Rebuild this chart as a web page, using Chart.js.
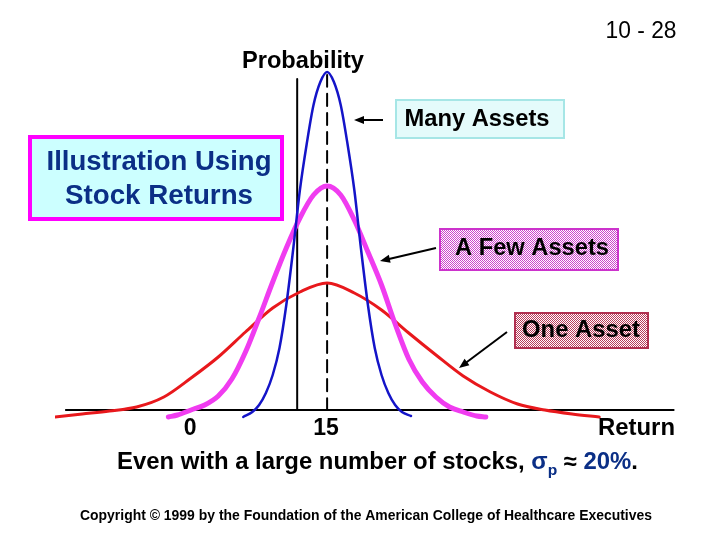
<!DOCTYPE html>
<html><head><meta charset="utf-8">
<script src="https://cdn.jsdelivr.net/npm/chart.js@4"></script>
<style>html,body{margin:0;padding:0;background:#fff}#wrap{width:720px;height:540px;position:relative}</style>
</head><body><div id="wrap"><canvas id="c" width="720" height="540"></canvas></div>
<script>
// Return (%) on x, relative probability on y
const oneAssetReturns  = [-15,-12,-9,-6,-3,0,3,6,9,12,15,18,21,24,27,30,33,36,39,42,45];
const oneAssetProb     = [-0.07,-0.04,-0.01,0.03,0.13,0.32,0.53,0.78,1.02,1.18,1.27,1.17,1.00,0.77,0.55,0.34,0.18,0.06,0.00,-0.04,-0.07];
const fewAssetsReturns = [-2.5,-1.5,0,1.5,3,4.5,6,7.5,9,10.5,12,13.5,15,16.5,18,19.5,21,22.5,24,25.5,27,28.5,30,31.5,32.5];
const fewAssetsProb    = [-0.07,-0.05,0.00,0.05,0.14,0.31,0.58,0.92,1.28,1.62,1.92,2.15,2.24,2.15,1.90,1.58,1.25,0.86,0.51,0.28,0.13,0.03,-0.02,-0.06,-0.07];
const manyAssetsReturns= [5.75,6.75,7.5,8.25,9,9.75,10.5,11.25,12,12.75,13.5,14.25,15,15.75,16.5,17.25,18,18.75,19.5,20.25,21,21.75,22.5,23.25,24.25];
const manyAssetsProb   = [-0.07,-0.02,0.05,0.17,0.35,0.62,1.05,1.60,2.20,2.66,3.05,3.28,3.38,3.28,3.05,2.66,2.20,1.60,1.05,0.62,0.35,0.17,0.05,-0.02,-0.06];
const xTickLabels = [0, 15];
const meanReturn = 15;
const probAxisReturn = 11.7;
const baselineReturns = [-13.8, 53.2];

const toXY = (xs, ys) => xs.map((x, i) => ({x, y: ys[i]}));
const F = '"Liberation Sans", Arial, sans-serif';

function checker(ctx, c1, c2) {
  const p = document.createElement('canvas'); p.width = 2; p.height = 2;
  const g = p.getContext('2d');
  g.fillStyle = c2; g.fillRect(0,0,2,2);
  g.fillStyle = c1; g.fillRect(0,0,1,1); g.fillRect(1,1,1,1);
  return ctx.createPattern(p, 'repeat');
}
function arrow(ctx, x1, y1, x2, y2) {
  ctx.save(); ctx.strokeStyle = '#000'; ctx.fillStyle = '#000'; ctx.lineWidth = 2;
  const a = Math.atan2(y2 - y1, x2 - x1);
  ctx.beginPath(); ctx.moveTo(x1, y1);
  ctx.lineTo(x2 - 7*Math.cos(a), y2 - 7*Math.sin(a)); ctx.stroke();
  ctx.beginPath(); ctx.moveTo(x2, y2);
  ctx.lineTo(x2 - 10*Math.cos(a) + 4*Math.sin(a), y2 - 10*Math.sin(a) - 4*Math.cos(a));
  ctx.lineTo(x2 - 10*Math.cos(a) - 4*Math.sin(a), y2 - 10*Math.sin(a) + 4*Math.cos(a));
  ctx.closePath(); ctx.fill(); ctx.restore();
}
function fitText(ctx, text, cx, cy, w) {
  const m = ctx.measureText(text).width;
  ctx.save(); ctx.translate(cx, cy);
  if (w) ctx.scale(w / m, 1);
  ctx.textAlign = 'center'; ctx.textBaseline = 'middle';
  ctx.fillText(text, 0, 0); ctx.restore();
}

const deco = {
  id: 'deco',
  afterDraw(chart) {
    const ctx = chart.ctx, xs = chart.scales.x;
    ctx.save();
    ctx.fillStyle = '#000';
    ctx.font = '23px ' + F; fitText(ctx, '10 - 28', 641, 32, 71);
    ctx.font = 'bold 23px ' + F; fitText(ctx, 'Probability', 303, 62, 122);

    // Illustration box
    ctx.fillStyle = '#ccffff'; ctx.fillRect(30, 137, 252, 82);
    ctx.strokeStyle = '#ff00ff'; ctx.lineWidth = 4; ctx.strokeRect(30, 137, 252, 82);
    ctx.fillStyle = '#0b2f86'; ctx.font = 'bold 27px ' + F;
    fitText(ctx, 'Illustration Using', 159, 163, 225);
    fitText(ctx, 'Stock Returns', 159, 197, 188);

    // Many Assets
    ctx.fillStyle = '#e4fbfb'; ctx.fillRect(396, 100, 168, 38);
    ctx.strokeStyle = '#a6e6e6'; ctx.lineWidth = 2; ctx.strokeRect(396, 100, 168, 38);
    ctx.fillStyle = '#000'; ctx.font = 'bold 23px ' + F; fitText(ctx, 'Many Assets', 477, 120, 145);
    arrow(ctx, 383, 120, 354, 120);

    // A Few Assets
    ctx.fillStyle = checker(ctx, '#cc44cc', '#ffffff'); ctx.fillRect(440, 229, 178, 41);
    ctx.strokeStyle = '#cc33cc'; ctx.lineWidth = 2; ctx.strokeRect(440, 229, 178, 41);
    ctx.fillStyle = '#000'; fitText(ctx, 'A Few Assets', 532, 249, 154);
    arrow(ctx, 436, 248, 380, 261);

    // One Asset
    ctx.fillStyle = checker(ctx, '#b83a5a', '#ffffff'); ctx.fillRect(515, 313, 133, 35);
    ctx.strokeStyle = '#b03050'; ctx.lineWidth = 2; ctx.strokeRect(515, 313, 133, 35);
    ctx.fillStyle = '#000'; fitText(ctx, 'One Asset', 581, 331, 118);
    arrow(ctx, 507, 332, 459, 368);

    // tick labels
    ctx.font = 'bold 23px ' + F;
    xTickLabels.forEach(v => fitText(ctx, String(v), xs.getPixelForValue(v) - 1, 429));
    fitText(ctx, 'Return', 636.5, 429, 77);

    // sentence
    ctx.textAlign = 'left'; ctx.textBaseline = 'middle';
    const y = 463;
    const p1 = 'Even with a large number of stocks, ';
    ctx.font = 'bold 23px ' + F;
    const w1 = ctx.measureText(p1).width;
    const ws = ctx.measureText('σ').width;
    ctx.font = 'bold 15px ' + F; const wp = ctx.measureText('p').width;
    ctx.font = 'bold 23px ' + F; const wa = ctx.measureText(' ≈ ').width;
    const w20 = ctx.measureText('20%').width, wd = ctx.measureText('.').width;
    const total = w1 + ws + wp + wa + w20 + wd;
    const sx = 521 / total;
    ctx.translate(117, y); ctx.scale(sx, 1);
    let x = 0;
    ctx.fillStyle = '#000'; ctx.fillText(p1, x, 0); x += w1;
    ctx.fillStyle = '#0b2f86'; ctx.fillText('σ', x, 0); x += ws;
    ctx.font = 'bold 15px ' + F; ctx.fillText('p', x, 8); x += wp;
    ctx.fillStyle = '#000'; ctx.font = 'bold 23px ' + F; ctx.fillText(' ≈ ', x, 0); x += wa;
    ctx.fillStyle = '#0b2f86'; ctx.fillText('20%', x, 0); x += w20;
    ctx.fillStyle = '#000'; ctx.fillText('.', x, 0);
    ctx.setTransform(1, 0, 0, 1, 0, 0);

    ctx.font = 'bold 15px ' + F; ctx.fillStyle = '#000';
    fitText(ctx, 'Copyright © 1999 by the Foundation of the American College of Healthcare Executives', 366, 516, 572);
    ctx.restore();
  }
};

new Chart(document.getElementById('c'), {
  type: 'line',
  data: { datasets: [
    { label: 'Many Assets', data: toXY(manyAssetsReturns, manyAssetsProb), borderColor: '#1414c8', borderWidth: 2.5, order: 1 },
    { label: 'A Few Assets', data: toXY(fewAssetsReturns, fewAssetsProb), borderColor: '#f03cf0', borderWidth: 5, order: 2 },
    { label: 'One Asset', data: toXY(oneAssetReturns, oneAssetProb), borderColor: '#e8181c', borderWidth: 3, order: 3 },
    { label: 'mean', data: [{x: meanReturn, y: 0}, {x: meanReturn, y: 3.36}], borderColor: '#000', borderWidth: 2, borderDash: [12, 7], order: 4 },
    { label: 'prob axis', data: [{x: probAxisReturn, y: 0}, {x: probAxisReturn, y: 3.31}], borderColor: '#000', borderWidth: 2, order: 5 },
    { label: 'return axis', data: baselineReturns.map(x => ({x, y: 0})), borderColor: '#000', borderWidth: 2, order: 6 }
  ]},
  options: {
    responsive: false, animation: false,
    layout: { padding: { left: 55, right: 21, top: 60, bottom: 120 } },
    elements: { point: { radius: 0 }, line: { cubicInterpolationMode: 'monotone', fill: false, borderCapStyle: 'round', borderJoinStyle: 'round' } },
    scales: {
      x: { type: 'linear', min: -15, max: 56, display: false },
      y: { min: -0.1, max: 3.5, display: false }
    },
    plugins: { legend: { display: false }, tooltip: { enabled: false } }
  },
  plugins: [deco]
});
</script></body></html>
